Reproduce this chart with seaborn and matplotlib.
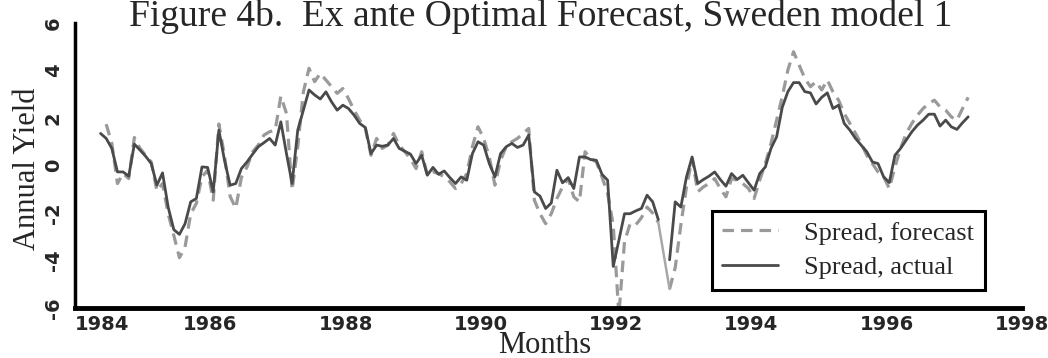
import numpy as np
import pandas as pd
import matplotlib
matplotlib.use("Agg")
import matplotlib.pyplot as plt
from matplotlib.lines import Line2D
from matplotlib.ticker import MultipleLocator
import seaborn as sns

# monthly series, May 1984 - Mar 1997
start_year, start_month = 1984, 5

actual = [
    1.35, 1.14, 0.72, -0.27, -0.27, -0.45, 0.90, 0.65, 0.39, 0.08, -0.83, -0.31,
    -1.75, -2.70, -2.90, -2.45, -1.53, -1.39, -0.06, -0.08, -1.11, 1.49, 0.22, -0.83,
    -0.76, -0.13, 0.15, 0.48, 0.79, 0.96, 1.14, 0.86, 1.84, 0.50, -0.76, 1.49,
    2.33, 3.18, 2.97, 2.80, 3.10, 2.68, 2.33, 2.54, 2.40, 2.12, 1.77, 1.60,
    0.50, 0.86, 0.81, 0.86, 1.14, 0.72, 0.60, 0.48, 0.08, 0.43, -0.41, -0.08,
    -0.37, -0.23, -0.51, -0.76, -0.48, -0.62, 0.50, 1.00, 0.86, 0.08, -0.48, 0.50,
    0.79, 0.93, 0.76, 0.86, 1.28, -1.11, -1.29, -1.81, -1.58, -0.20, -0.73, -0.51,
    -0.97, 0.36, 0.36, 0.25, 0.22, -0.37, -0.62, -4.25, -3.15, -2.03, -2.03, -1.91,
    -1.81, -1.25, -1.53, -2.28, np.nan, -3.97, -1.53, -1.75, -0.48, 0.36, -0.76, -0.59,
    -0.45, -0.27, -0.59, -0.87, -0.34, -0.59, -0.41, -0.73, -1.04, -0.34, -0.06, 0.72,
    1.21, 2.45, 3.11, 3.49, 3.49, 3.11, 3.06, 2.59, 2.87, 3.06, 2.40, 2.54,
    1.77, 1.49, 1.14, 0.86, 0.58, 0.15, 0.08, -0.48, -0.72, 0.43, 0.72, 1.07,
    1.42, 1.70, 1.91, 2.16, 2.16, 1.66, 1.91, 1.63, 1.52, 1.80, 2.05,
]

forecast = [
    np.nan, 1.74, 0.93, -0.76, -0.34, -0.55, 1.18, 0.72, 0.43, 0.15, -1.07, -0.76,
    -2.03, -2.94, -3.88, -3.43, -2.03, -1.60, -0.48, -0.20, -1.46, 1.75, 0.40, -1.30,
    -1.80, -0.50, -0.06, 0.58, 0.86, 1.28, 1.42, 1.49, 2.92, 2.19, -1.04, 0.79,
    3.10, 4.09, 3.53, 3.88, 3.60, 3.32, 3.04, 3.24, 2.82, 2.33, 1.91, 1.56,
    0.43, 1.14, 0.72, 0.86, 1.35, 0.86, 0.58, 0.29, -0.13, 0.58, -0.41, -0.27,
    -0.34, -0.48, -0.69, -0.97, -0.76, -0.34, 0.79, 1.63, 1.14, 0.36, -0.83, 0.22,
    0.79, 1.00, 1.14, 1.35, 1.56, -1.46, -2.03, -2.45, -2.03, -1.39, -0.90, -0.55,
    -1.32, -1.53, 0.58, 0.29, 0.15, -0.48, -1.18, -2.50, -6.30, -3.20, -2.45, -2.50,
    -2.20, -1.75, -2.00, -2.40, np.nan, -5.20, -4.30, -2.50, -0.90, 0.29, -1.11, -0.90,
    -0.76, -0.55, -0.97, -1.32, -0.55, -0.62, -0.76, -0.97, -1.39, -0.62, 0.08, 0.93,
    1.91, 2.90, 4.02, 4.79, 4.23, 3.67, 3.32, 3.53, 3.18, 3.60, 3.10, 2.75,
    2.19, 1.77, 1.35, 0.93, 0.43, 0.08, -0.27, -0.48, -0.97, -0.06, 0.72, 1.35,
    1.77, 2.12, 2.40, 2.61, 2.75, 2.47, 2.33, 2.05, 1.91, 2.40, 2.87,
]

year_ticks = [1984, 1986, 1988, 1990, 1992, 1994, 1996, 1998]
yield_ticks = [6, 4, 2, 0, -2, -4, -6]

month_idx = np.arange(len(actual)) + start_month - 1
dates = start_year + (month_idx + 0.5) / 12

df = pd.DataFrame({"date": dates, "actual": actual, "forecast": forecast})
df["seg_a"] = df["actual"].isna().cumsum()
df["seg_f"] = df["forecast"].isna().cumsum()

sns.set_style("white")
plt.rcParams["font.family"] = ["DejaVu Sans"]

fig = plt.figure(figsize=(10.48, 3.58), dpi=100)
ax = fig.add_axes([75.2 / 1048, 50 / 358, 946.5 / 1048, 285 / 358])

fc_color = "#9a9a9a"
ac_color = "#4a4a4a"
dash_on_off = [3.6, 2.2]

sns.lineplot(data=df.dropna(subset=["forecast"]), x="date", y="forecast",
             units="seg_f", estimator=None, color=fc_color, lw=2.3, ax=ax)
for ln in ax.lines:
    ln.set_dashes(dash_on_off)

# the month with no forecast/actual is bridged by a thin solid line
gap = np.where(df["forecast"].isna().values)[0]
gap = [g for g in gap if g > 0]
for g in gap:
    bridge = df.iloc[[g - 1, g + 1]]
    sns.lineplot(data=bridge, x="date", y="forecast", estimator=None,
                 color="#a8a8a8", lw=1.8, ax=ax)

sns.lineplot(data=df.dropna(subset=["actual"]), x="date", y="actual",
             units="seg_a", estimator=None, color=ac_color, lw=2.0, ax=ax)

ax.set_xlim(1984, 1998)
ax.set_ylim(-6, 6)
ax.set_xticks(year_ticks)
ax.set_xticklabels([str(y) for y in year_ticks], fontweight="bold", fontsize=14)
ax.xaxis.set_minor_locator(MultipleLocator(1))
ax.set_yticks(yield_ticks)
ax.set_yticklabels([str(v) for v in yield_ticks], fontweight="bold", fontsize=14,
                   rotation=90, va="center")
ax.yaxis.set_minor_locator(MultipleLocator(1))
ax.get_xticklabels()[0].set_horizontalalignment("left")

ax.tick_params(which="both", direction="in", length=7, width=2, color="black")
ax.tick_params(axis="x", pad=5)
ax.tick_params(axis="y", pad=9)

for side in ["top", "right"]:
    ax.spines[side].set_visible(False)
ax.spines["left"].set_linewidth(2.5)
ax.spines["bottom"].set_linewidth(3.5)
ax.spines["left"].set_color("black")
ax.spines["bottom"].set_color("black")

ax.set_xlabel("")
ax.set_ylabel("")
serif = "Liberation Serif"
fig.text(545 / 1048, 1 - 353 / 358, "Months", ha="center", va="baseline",
         fontsize=22, family=serif)
fig.text(28 / 1048, 1 - 169 / 358, "Annual Yield", ha="center", va="center",
         rotation=90, fontsize=22, family=serif)
fig.text(541 / 1048, 1 - 26 / 358,
         "Figure 4b.  Ex ante Optimal Forecast, Sweden model 1",
         ha="center", va="baseline", fontsize=27, family=serif)

handles = [
    Line2D([], [], color=fc_color, lw=2.3, dashes=dash_on_off),
    Line2D([], [], color=ac_color, lw=2.0),
]
leg = ax.legend(handles, ["Spread, forecast", "Spread, actual"],
                loc="upper left", bbox_to_anchor=((711.7 - 75.2) / 946.5, (308 - 210.7) / 285),
                borderaxespad=0, prop={"family": serif, "size": 19},
                frameon=True, fancybox=False, framealpha=1, edgecolor="black",
                handlelength=2.1, handletextpad=1.0, borderpad=0.4, labelspacing=0.42)
leg.get_frame().set_linewidth(2.2)

fig.savefig("out.png", dpi=100)
